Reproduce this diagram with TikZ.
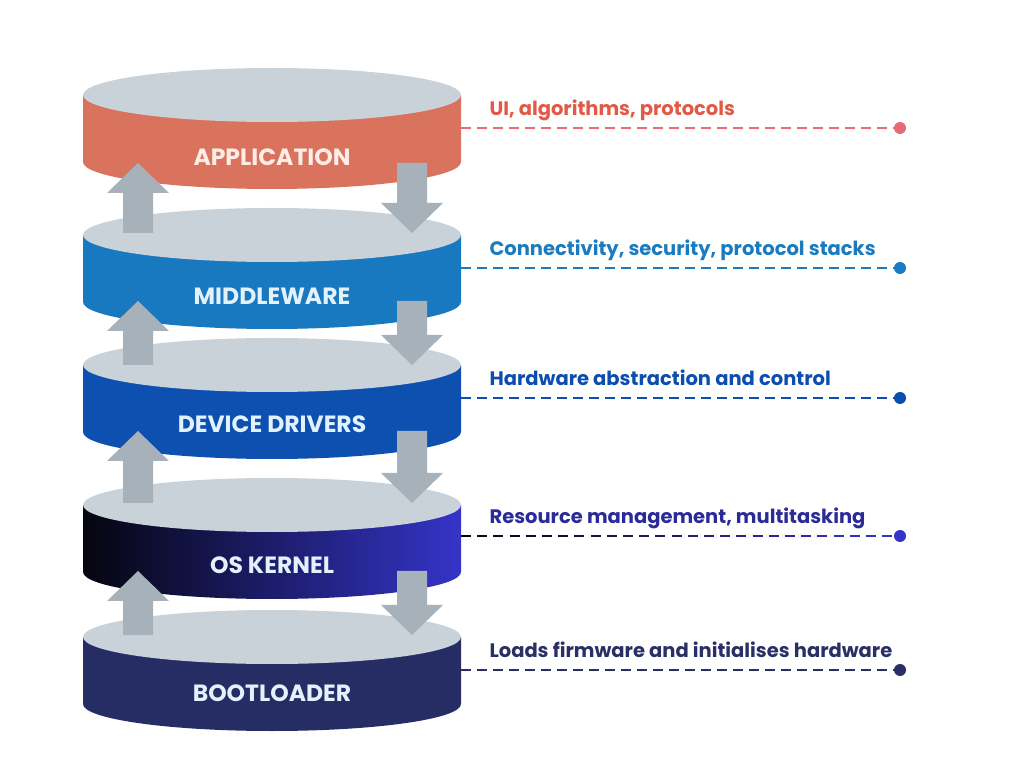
\documentclass[tikz,border=0pt]{standalone}
\usepackage{fontspec}
\setmainfont{Poppins}
\usetikzlibrary{calc}

\definecolor{topface}{RGB}{201,209,217}
\definecolor{arrowgray}{RGB}{167,177,186}
\definecolor{appside}{RGB}{217,115,94}
\definecolor{apptext}{RGB}{252,237,230}
\definecolor{applabel}{RGB}{226,90,69}
\definecolor{appline}{RGB}{232,106,116}
\definecolor{midside}{RGB}{24,120,192}
\definecolor{midtext}{RGB}{226,242,252}
\definecolor{midlabel}{RGB}{26,123,192}
\definecolor{devside}{RGB}{13,80,176}
\definecolor{devlabel}{RGB}{12,78,175}
\definecolor{osleft}{RGB}{5,5,15}
\definecolor{osright}{RGB}{52,52,200}
\definecolor{oslabel}{RGB}{43,42,153}
\definecolor{bootside}{RGB}{38,45,101}
\definecolor{bootlabel}{RGB}{42,47,101}

% side of a disk: #1 = y of top centre, #2 = fill options
\newcommand{\stackdisk}[2]{
  \path[#2] (83,#1) -- (83,#1-67) arc (180:360:189 and 27) -- (461,#1) -- cycle;
  \fill[topface] (272,#1) ellipse (189 and 27);
}

\begin{document}
\begin{tikzpicture}[x=1pt,y=1pt,
    disktext/.style={font=\fontsize{23.5}{24}\selectfont\bfseries},
    desc/.style={anchor=base west,font=\fontsize{19.5}{20}\selectfont\bfseries},
    leader/.style={dash pattern=on 10pt off 6pt,line width=2.4pt},
    enddot/.style={circle,inner sep=0pt,minimum size=12pt},
    bigarrow/.style={fill=arrowgray}]
\useasboundingbox (0,0) rectangle (1024,768);

% disks
\stackdisk{673}{fill=appside}
\stackdisk{533}{fill=midside}
\stackdisk{403}{fill=devside}
\stackdisk{263}{left color=osleft,right color=osright}
\stackdisk{131}{fill=bootside}

\node[disktext,text=apptext] (app) at (272,611) {APPLICATION};
\node[disktext,text=midtext] (mid) at (272,472) {MIDDLEWARE};
\node[disktext,text=midtext] (dev) at (272,344) {DEVICE DRIVERS};
\node[disktext,text=midtext] (os) at (272,203) {OS KERNEL};
\node[disktext,text=midtext] (boot) at (272,75) {BOOTLOADER};

% leaders
\coordinate (appside) at (461,640);
\coordinate (midside) at (461,500);
\coordinate (devside) at (461,370);
\coordinate (osside) at (461,232);
\coordinate (bootside) at (461,98);
\node[enddot,fill=appline] (appdot) at (900,640) {};
\node[enddot,fill=midlabel] (middot) at (900,500) {};
\node[enddot,fill=devlabel] (devdot) at (900,370) {};
\node[enddot,fill=osright] (osdot) at (900,232) {};
\node[enddot,fill=bootlabel] (bootdot) at (900,98) {};

\draw[leader,appline] (appside) -- (appdot);
\draw[leader,midlabel] (midside) -- (middot);
\draw[leader,devlabel] (devside) -- (devdot);
\foreach \i in {0,...,26}{
  \pgfmathsetmacro\pct{100*\i/26}
  \draw[line width=2.4pt,color=osright!\pct!osleft]
    ($(osside)!{\i/27.1}!(osdot)$) -- ($(osside)!{(\i+0.62)/27.1}!(osdot)$);
}
\draw[leader,bootlabel] (bootside) -- (bootdot);

\node[desc,text=applabel] (appdesc) at (486,652.5) {UI, algorithms, protocols};
\node[desc,text=midlabel] (middesc) at (486,512.5) {Connectivity, security, protocol stacks};
\node[desc,text=devlabel] (devdesc) at (486,382.5) {Hardware abstraction and control};
\node[desc,text=oslabel] (osdesc) at (486,244.5) {Resource management, multitasking};
\node[desc,text=bootlabel] (bootdesc) at (486,110.5) {Loads firmware and initialises hardware};

% arrows between layers: lower end / upper end
\foreach \lo/\hi in {535/605,403/467,265/337,133/197}{
  \fill[bigarrow] (123,\lo) -- (123,\hi-30) -- (107,\hi-30) -- (138,\hi)
    -- (169,\hi-30) -- (153,\hi-30) -- (153,\lo) -- cycle;
  \fill[bigarrow] (397,\hi) -- (397,\lo+30) -- (381,\lo+30) -- (412,\lo)
    -- (443,\lo+30) -- (427,\lo+30) -- (427,\hi) -- cycle;
}
\end{tikzpicture}
\end{document}
